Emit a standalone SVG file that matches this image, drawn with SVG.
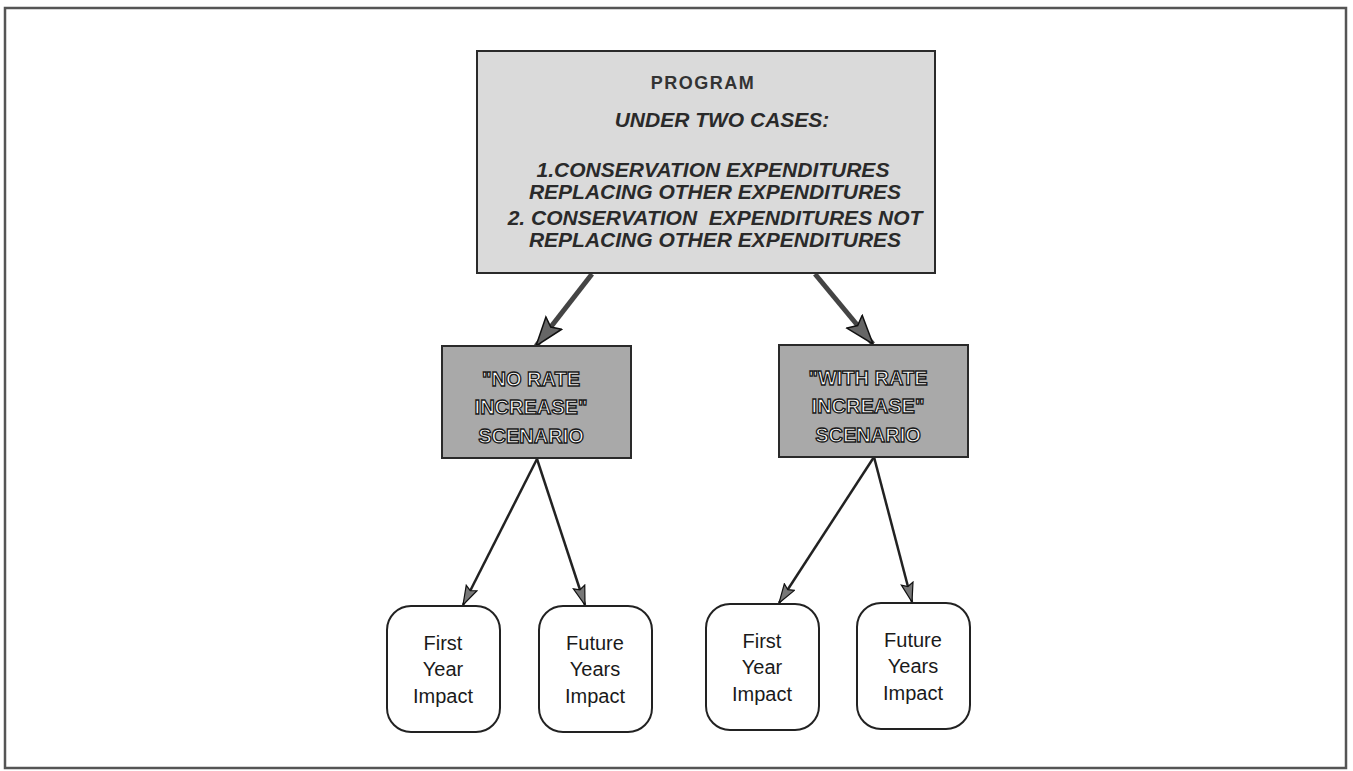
<svg xmlns="http://www.w3.org/2000/svg" width="1353" height="771" viewBox="0 0 1353 771">
<defs>
<style>
.frame{fill:#fff;stroke:#555;stroke-width:2.5}
.top{fill:#dadada;stroke:#2a2a2a;stroke-width:2}
.scen{fill:#a9a9a9;stroke:#2a2a2a;stroke-width:2}
.imp{fill:#fff;stroke:#222;stroke-width:2}
.prog{font-family:"Liberation Sans",Arial,sans-serif;font-size:18px;font-weight:bold;letter-spacing:1.5px;fill:#333;text-anchor:middle}
.case{font-family:"Liberation Sans",Arial,sans-serif;font-size:21px;font-weight:bold;font-style:italic;fill:#2a2a2a;text-anchor:middle}
.out{font-family:"Liberation Sans",Arial,sans-serif;font-size:20px;font-weight:bold;fill:#fff;stroke:#1a1a1a;stroke-width:1.3;text-anchor:middle}
.lbl{font-family:"Liberation Sans",Arial,sans-serif;font-size:20px;fill:#1a1a1a;text-anchor:middle}
.thick{stroke:#444;stroke-width:5;fill:none;marker-end:url(#bigHead)}
.thin{stroke:#222;stroke-width:2.5;fill:none;marker-end:url(#smallHead)}
</style>
<marker id="bigHead" markerUnits="userSpaceOnUse" markerWidth="32" markerHeight="24" refX="30" refY="11" orient="auto">
<path d="M1,1 L30,11 L1,21 L6,11 Z" fill="#666" stroke="#111" stroke-width="1.5"/>
</marker>
<marker id="smallHead" markerUnits="userSpaceOnUse" markerWidth="22" markerHeight="16" refX="20" refY="7" orient="auto">
<path d="M1,1 L20,7 L1,13 L4,7 Z" fill="#777" stroke="#111" stroke-width="1.2"/>
</marker>
</defs>
<rect class="frame" x="5" y="8" width="1341" height="760"/>

<g id="connectors">
<line class="thick" x1="592" y1="274" x2="536" y2="346"/>
<line class="thick" x1="815" y1="274" x2="873" y2="344"/>
<line class="thin" x1="537" y1="459" x2="463" y2="605"/>
<line class="thin" x1="537" y1="459" x2="585" y2="605"/>
<line class="thin" x1="874" y1="457" x2="779" y2="603"/>
<line class="thin" x1="874" y1="457" x2="912" y2="602"/>
</g>

<g id="program">
<rect class="top" x="477" y="51" width="458" height="222"/>
<text class="prog" x="703" y="89">PROGRAM</text>
<text class="case" x="722" y="127">UNDER TWO CASES:</text>
<text class="case" x="713" y="177">1.CONSERVATION EXPENDITURES</text>
<text class="case" x="715" y="199">REPLACING OTHER EXPENDITURES</text>
<text class="case" x="715" y="225" xml:space="preserve">2. CONSERVATION  EXPENDITURES NOT</text>
<text class="case" x="715" y="247">REPLACING OTHER EXPENDITURES</text>
</g>

<g id="no-rate">
<rect class="scen" x="442" y="346" width="189" height="112"/>
<text class="out" x="531" y="386">"NO RATE</text>
<text class="out" x="531" y="414">INCREASE"</text>
<text class="out" x="531" y="443">SCENARIO</text>
</g>

<g id="with-rate">
<rect class="scen" x="779" y="345" width="189" height="112"/>
<text class="out" x="868" y="385">"WITH RATE</text>
<text class="out" x="868" y="413">INCREASE"</text>
<text class="out" x="868" y="442">SCENARIO</text>
</g>

<g id="first-year-1">
<rect class="imp" x="387" y="606" width="113" height="126" rx="24"/>
<text class="lbl" x="443" y="650">First</text>
<text class="lbl" x="443" y="676">Year</text>
<text class="lbl" x="443" y="703">Impact</text>
</g>
<g id="future-years-1">
<rect class="imp" x="539" y="606" width="113" height="126" rx="24"/>
<text class="lbl" x="595" y="650">Future</text>
<text class="lbl" x="595" y="676">Years</text>
<text class="lbl" x="595" y="703">Impact</text>
</g>
<g id="first-year-2">
<rect class="imp" x="706" y="604" width="113" height="126" rx="24"/>
<text class="lbl" x="762" y="648">First</text>
<text class="lbl" x="762" y="674">Year</text>
<text class="lbl" x="762" y="701">Impact</text>
</g>
<g id="future-years-2">
<rect class="imp" x="857" y="603" width="113" height="126" rx="24"/>
<text class="lbl" x="913" y="647">Future</text>
<text class="lbl" x="913" y="673">Years</text>
<text class="lbl" x="913" y="700">Impact</text>
</g>
</svg>
